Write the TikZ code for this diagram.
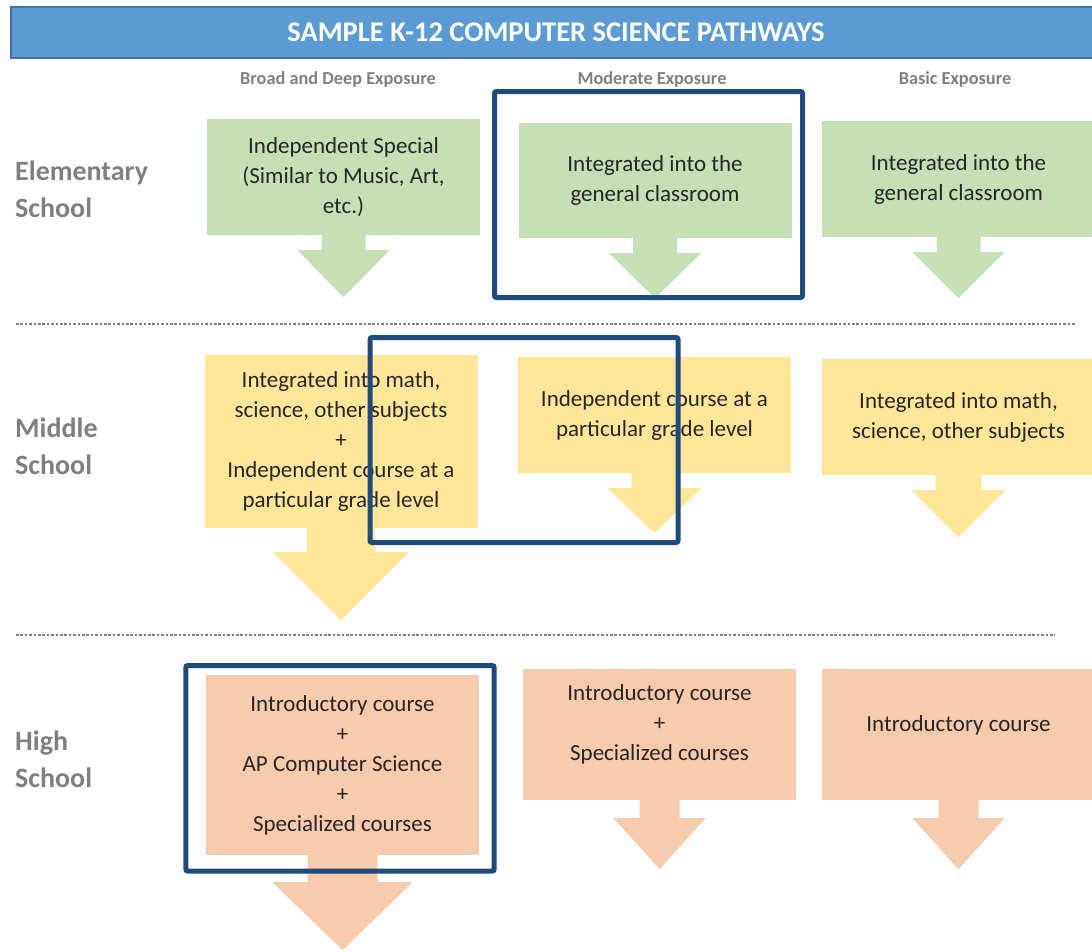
\documentclass[tikz,border=0pt]{standalone}
\usepackage{fontspec}
\setmainfont{Carlito}
\usepackage{xcolor}
\usepackage{tikz}

\definecolor{barblue}{HTML}{5B9BD5}
\definecolor{baredge}{HTML}{41719C}
\definecolor{frameblue}{HTML}{1F4A7E}
\definecolor{greenfill}{HTML}{C5E0B4}
\definecolor{yellowfill}{HTML}{FFE699}
\definecolor{orangefill}{HTML}{F8CBAD}
\definecolor{labelgray}{HTML}{7F7F7F}

\tikzset{
	pathbox/.style={rectangle, inner sep=0pt, minimum width=273pt, align=center, text=black!85, font=\fontsize{23}{30}\selectfont},
	boxtext/.style={align=center, inner sep=0pt, text=black!85, font=\fontsize{23}{30}\selectfont},
	elembox/.style={pathbox, fill=greenfill},
	midbox/.style={pathbox, fill=yellowfill},
	highbox/.style={pathbox, fill=orangefill},
	rowlabel/.style={anchor=west, align=left, inner sep=0pt, text=labelgray, font=\bfseries\fontsize{28}{37}\selectfont},
	collabel/.style={inner sep=0pt, text=labelgray, font=\bfseries\fontsize{18.3}{22}\selectfont},
	separator/.style={labelgray, line width=2.6pt, dash pattern=on 2.6pt off 1.8pt},
	highlight/.style={draw=frameblue, line width=5pt, rounded corners=2pt},
}

\begin{document}
\begin{tikzpicture}[x=1pt, y=-1pt]
	\useasboundingbox (0,0) rectangle (1092,951);

	% title bar and column heads
	\node[fill=barblue, draw=baredge, line width=1.5pt, minimum width=1090pt, minimum height=51pt, inner sep=0pt, text=white, font=\bfseries\fontsize{28.5}{32}\selectfont] at (556,32.5) (title) {SAMPLE K-12 COMPUTER SCIENCE PATHWAYS};
	\node[collabel] at (338,80) (broad) {Broad and Deep Exposure};
	\node[collabel] at (652,80) (moderate) {Moderate Exposure};
	\node[collabel] at (955,80) (basic) {Basic Exposure};

	% row labels
	\node[rowlabel] at (15,189.5) (elem) {Elementary\\School};
	\node[rowlabel] at (15,446) (middle) {Middle\\School};
	\node[rowlabel] at (15,759) (high) {High\\School};

	\draw[separator] (16,324) -- (1075,324);
	\draw[separator] (16,635) -- (1055,635);

	% elementary school
	\node[elembox, minimum height=116pt] at (343.5,177) (es1) {Independent Special\\(Similar to Music, Art,\\etc.)};
	\node[elembox, minimum height=115pt] at (655,180.5) (es2) {Integrated into the\\general classroom};
	\node[elembox, minimum height=116pt] at (958.5,179) (es3) {Integrated into the\\general classroom};
	\fill[greenfill] ([xshift=-22pt,yshift=1pt]es1.south) -- ++(0,16) -- ++(-24,0) -- ++(46,47) -- ++(46,-47) -- ++(-24,0) -- ++(0,-16) -- cycle;
	\fill[greenfill] ([xshift=-22pt,yshift=1pt]es2.south) -- ++(0,16) -- ++(-24,0) -- ++(46,45) -- ++(46,-45) -- ++(-24,0) -- ++(0,-16) -- cycle;
	\fill[greenfill] ([xshift=-22pt,yshift=1pt]es3.south) -- ++(0,16) -- ++(-24,0) -- ++(46,46) -- ++(46,-46) -- ++(-24,0) -- ++(0,-16) -- cycle;

	% middle school
	\node[midbox, minimum height=173pt] at (341,441.5) (ms1) {Integrated into math,\\science, other subjects\\+\\Independent course at a\\particular grade level};
	\node[midbox, minimum height=116pt] at (654.5,415) (ms2) {Independent course at a\\particular grade level};
	\node[midbox, minimum height=116pt] at (958.5,417) (ms3) {Integrated into math,\\science, other subjects};
	\fill[yellowfill] ([xshift=-34pt,yshift=1pt]ms1.south) -- ++(0,25) -- ++(-34,0) -- ++(68,68) -- ++(68,-68) -- ++(-34,0) -- ++(0,-25) -- cycle;
	\fill[yellowfill] ([xshift=-23pt,yshift=1pt]ms2.south) -- ++(0,16) -- ++(-24,0) -- ++(47,45) -- ++(47,-45) -- ++(-24,0) -- ++(0,-16) -- cycle;
	\fill[yellowfill] ([xshift=-23pt,yshift=1pt]ms3.south) -- ++(0,16) -- ++(-24,0) -- ++(47,47) -- ++(47,-47) -- ++(-24,0) -- ++(0,-16) -- cycle;

	% high school
	\node[highbox, minimum height=180pt] at (342.5,765) (hs1) {Introductory course\\+\\AP Computer Science\\+\\Specialized courses};
	\node[highbox, minimum height=131pt] at (659.5,734.5) (hs2) {};
	\node[boxtext] at (659.5,724) (hs2text) {Introductory course\\+\\Specialized courses};
	\node[highbox, minimum height=131pt] at (958.5,734.5) (hs3) {};
	\node[boxtext] at (958.5,725) (hs3text) {Introductory course};
	\fill[orangefill] ([xshift=-35pt,yshift=1pt]hs1.south) -- ++(0,28) -- ++(-35,0) -- ++(70,68) -- ++(70,-68) -- ++(-35,0) -- ++(0,-28) -- cycle;
	\fill[orangefill] ([xshift=-20pt,yshift=1pt]hs2.south) -- ++(0,19) -- ++(-26,0) -- ++(46,51) -- ++(46,-51) -- ++(-26,0) -- ++(0,-19) -- cycle;
	\fill[orangefill] ([xshift=-20pt,yshift=1pt]hs3.south) -- ++(0,19) -- ++(-26,0) -- ++(46,51) -- ++(46,-51) -- ++(-26,0) -- ++(0,-19) -- cycle;

	% highlighted pathway
	\draw[highlight] (494.5,91.5) rectangle (802.5,297.5);
	\draw[highlight] (370,337.5) rectangle (678,542.5);
	\draw[highlight] (185.8,665.5) rectangle (494.2,871);
\end{tikzpicture}
\end{document}
